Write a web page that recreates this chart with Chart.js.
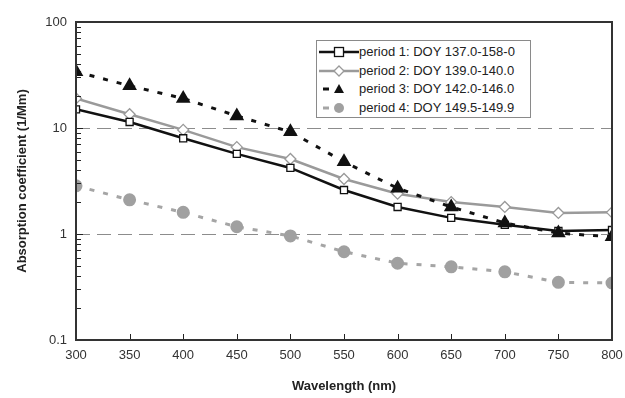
<!DOCTYPE html>
<html lang="en">
<head>
    <meta charset="UTF-8">
    <title>Absorption coefficient</title>
    <script src="https://cdn.jsdelivr.net/npm/chart.js"></script>
    <style>
        html, body { margin: 0; padding: 0; background: #fff; }
        #wrap { position: relative; width: 625px; height: 398px; }
        #legend {
            position: absolute; left: 316px; top: 40px; width: 215px; height: 78px;
            border: 1px solid #8a8a8a; background: #fff;
            font-family: "Liberation Sans", Arial, sans-serif; font-size: 13px; color: #222;
            box-sizing: border-box; padding-top: 2px;
        }
        #legend div { height: 18.5px; line-height: 18.5px; display: flex; align-items: center; }
        #legend svg { margin-left: 2px; margin-right: 0px; }
    </style>
</head>
<body>
<div id="wrap">
    <canvas id="grafico" width="625" height="398"></canvas>
    <div id="legend"></div>
</div>
<script>
    const wavelengths = [300, 350, 400, 450, 500, 550, 600, 650, 700, 750, 800];
    const period1 = [15, 11.4, 8.0, 5.7, 4.2, 2.6, 1.8, 1.42, 1.22, 1.07, 1.09];
    const period2 = [19, 13.5, 9.6, 6.6, 5.1, 3.3, 2.4, 2.0, 1.8, 1.58, 1.6];
    const period3 = [34, 25, 19, 13, 9.2, 4.8, 2.7, 1.8, 1.27, 1.02, 0.94];
    const period4 = [2.85, 2.1, 1.6, 1.17, 0.96, 0.68, 0.53, 0.49, 0.44, 0.35, 0.345];
    const seriesNames = [
        'period 1: DOY 137.0-158-0',
        'period 2: DOY 139.0-140.0',
        'period 3: DOY 142.0-146.0',
        'period 4: DOY 149.5-149.9'
    ];

    const pts = arr => arr.map((v, i) => ({ x: wavelengths[i], y: v }));

    // tiques para dentro da área do gráfico
    const inwardTicks = {
        id: 'inwardTicks',
        afterDatasetsDraw(chart) {
            const { ctx, chartArea: a, scales } = chart;
            ctx.save();
            ctx.strokeStyle = '#222';
            ctx.lineWidth = 1;
            for (let d = 0.1; d < 100; d *= 10) {
                for (let m = 1; m < 10; m++) {
                    const y = Math.round(scales.y.getPixelForValue(d * m)) + 0.5;
                    const len = m === 1 ? 7 : 5;
                    ctx.beginPath(); ctx.moveTo(a.left, y); ctx.lineTo(a.left + len, y); ctx.stroke();
                }
            }
            wavelengths.forEach(w => {
                const x = Math.round(scales.x.getPixelForValue(w)) + 0.5;
                ctx.beginPath(); ctx.moveTo(x, a.bottom); ctx.lineTo(x, a.bottom - 6); ctx.stroke();
            });
            // moldura
            ctx.strokeStyle = '#333';
            ctx.lineWidth = 2;
            ctx.strokeRect(a.left, a.top, a.right - a.left, a.bottom - a.top);
            ctx.restore();
        }
    };

    const ctx = document.getElementById('grafico').getContext('2d');
    const grafico = new Chart(ctx, {
        type: 'line',
        data: {
            datasets: [
                {
                    label: seriesNames[0], data: pts(period1),
                    borderColor: '#111', borderWidth: 2.5,
                    pointStyle: 'rect', pointRadius: 5, pointBackgroundColor: '#fff',
                    pointBorderColor: '#111', pointBorderWidth: 1.3, order: 1
                },
                {
                    label: seriesNames[1], data: pts(period2),
                    borderColor: '#9a9a9a', borderWidth: 2.5,
                    pointStyle: 'rectRot', pointRadius: 5.5, pointBackgroundColor: '#fff',
                    pointBorderColor: '#999', pointBorderWidth: 1.3, order: 2
                },
                {
                    label: seriesNames[2], data: pts(period3),
                    borderColor: '#111', borderWidth: 3, borderDash: [5, 9],
                    pointStyle: 'triangle', pointRadius: 5.5, pointBackgroundColor: '#111',
                    pointBorderColor: '#111', order: 0
                },
                {
                    label: seriesNames[3], data: pts(period4),
                    borderColor: '#a5a5a5', borderWidth: 3, borderDash: [5, 9],
                    pointStyle: 'circle', pointRadius: 5, pointBackgroundColor: '#a0a0a0',
                    pointBorderColor: '#a0a0a0', order: 3
                }
            ]
        },
        options: {
            responsive: false,
            animation: false,
            layout: { padding: { left: 0, right: 13, top: 22, bottom: 0 } },
            plugins: { legend: { display: false }, tooltip: { enabled: false } },
            scales: {
                x: {
                    type: 'linear', min: 300, max: 800,
                    afterFit(s) { s.height = 58; s.paddingRight = 0; s.paddingLeft = 0; },
                    ticks: {
                        stepSize: 50, padding: 8, color: '#333',
                        font: { family: '"Liberation Sans", Arial', size: 13 }
                    },
                    grid: { display: false, drawTicks: false },
                    border: { display: false },
                    title: {
                        display: true, text: 'Wavelength (nm)', color: '#222', padding: { top: 6 },
                        font: { family: '"Liberation Sans", Arial', size: 13, weight: 'bold' }
                    }
                },
                y: {
                    type: 'logarithmic', min: 0.1, max: 100,
                    afterFit(s) { s.width = 76; s.paddingTop = 0; s.paddingBottom = 0; },
                    afterBuildTicks(s) {
                        s.ticks = [0.1, 1, 10, 100].map(v => ({ value: v }));
                    },
                    ticks: {
                        padding: 9, color: '#333',
                        font: { family: '"Liberation Sans", Arial', size: 13 },
                        callback: v => String(v)
                    },
                    grid: {
                        drawTicks: false, lineWidth: 1,
                        color: c => (c.tick && (c.tick.value === 1 || c.tick.value === 10)) ? '#8c8c8c' : 'rgba(0,0,0,0)'
                    },
                    border: { display: false, dash: [14, 7] },
                    title: {
                        display: true, text: 'Absorption coefficient (1/Mm)', color: '#222', padding: { top: 15, bottom: 0 },
                        font: { family: '"Liberation Sans", Arial', size: 13, weight: 'bold' }
                    }
                }
            }
        },
        plugins: [inwardTicks]
    });

    // legenda em HTML
    const legendSamples = [
        '<line x1="0" y1="7" x2="40" y2="7" stroke="#111" stroke-width="2.5"/><rect x="15.5" y="2.5" width="9" height="9" fill="#fff" stroke="#111" stroke-width="1.3"/>',
        '<line x1="0" y1="7" x2="40" y2="7" stroke="#9a9a9a" stroke-width="2.5"/><polygon points="20,2 25,7 20,12 15,7" fill="#fff" stroke="#999" stroke-width="1.3"/>',
        '<line x1="4" y1="7" x2="10" y2="7" stroke="#111" stroke-width="3"/><polygon points="20,2 25,11 15,11" fill="#111"/>',
        '<line x1="4" y1="7" x2="10" y2="7" stroke="#a5a5a5" stroke-width="3"/><circle cx="20" cy="7" r="5" fill="#a0a0a0"/>'
    ];
    document.getElementById('legend').innerHTML = seriesNames.map((n, i) =>
        '<div><svg width="40" height="14">' + legendSamples[i] + '</svg><span>' + n + '</span></div>'
    ).join('');
</script>
</body>
</html>
